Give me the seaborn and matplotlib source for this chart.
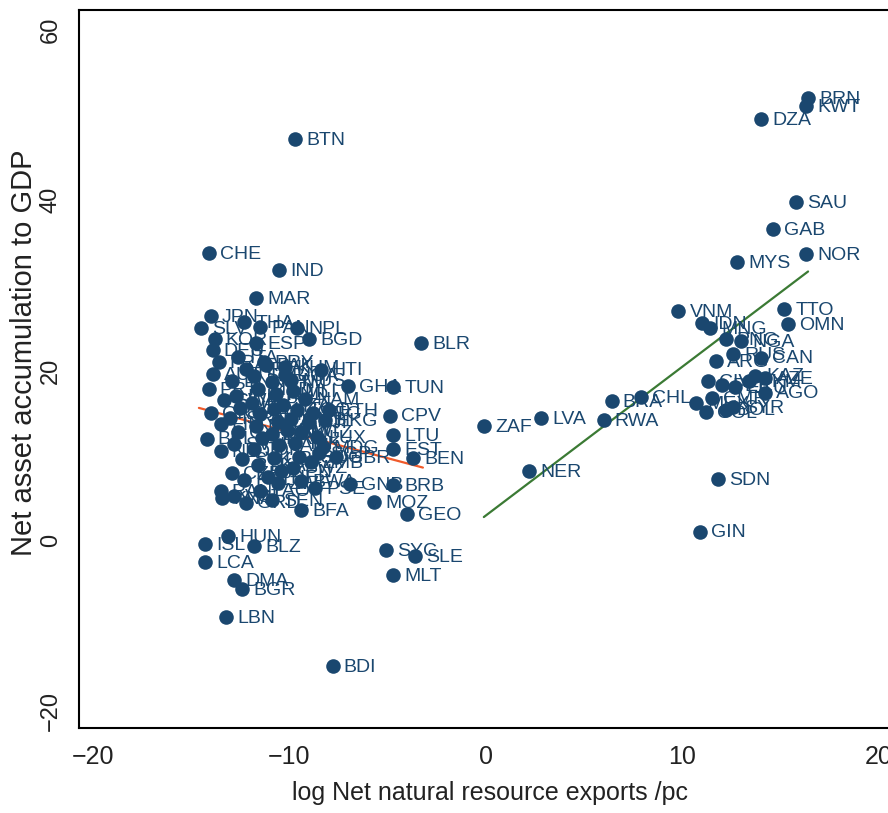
import seaborn as sns
import matplotlib.pyplot as plt
import pandas as pd

NAVY = "#1a476f"
RED = "#f05a2a"
GREEN = "#3b7a34"

# countries with positive net natural resource exports
right_codes = ["BRN", "KWT", "DZA", "SAU", "GAB", "NOR", "MYS", "VNM", "TTO", "OMN",
               "IDN", "MNG", "PNG", "NGA", "RUS", "CAN", "ARG", "KAZ", "AZE", "TKM",
               "CIV", "PER", "ECU", "AGO", "MEX", "CMR", "COL", "BOL", "SYR", "ZAF",
               "LVA", "NER", "BRA", "CHL", "RWA", "SDN", "GIN"]
right_x = [16.4, 16.3, 14.0, 15.8, 14.6, 16.3, 12.8, 9.8, 15.2, 15.4,
           11.0, 11.4, 12.2, 13.0, 12.6, 14.0, 11.7, 13.7, 14.2, 13.4,
           11.3, 12.0, 12.7, 14.2, 10.7, 11.5, 11.2, 12.2, 12.6, -0.1,
           2.8, 2.2, 6.4, 7.9, 6.0, 11.8, 10.9]
right_y = [51.9, 51.0, 49.5, 39.7, 36.6, 33.6, 32.7, 27.0, 27.2, 25.4,
           25.6, 25.0, 23.7, 23.4, 21.9, 21.5, 21.1, 19.4, 19.1, 18.7,
           18.7, 18.3, 18.0, 17.4, 16.2, 16.8, 15.1, 15.4, 15.7, 13.5,
           14.4, 8.2, 16.4, 16.9, 14.2, 7.3, 1.1]

# net resource importers, the crowded left cluster
left_codes = ["BTN", "CHE", "IND", "MAR", "JPN", "THA", "SLV", "NPL", "BGD", "BLR",
              "HTI", "GHA", "TUN", "CPV", "LTU", "EST", "BEN", "ETH", "GBR", "MDG",
              "ZMB", "GNB", "BRB", "MOZ", "GEO", "BFA", "SYC", "SLE", "MLT", "BDI",
              "LBN", "BGR", "DMA", "HUN", "ISL", "BLZ", "LCA", "PRY", "KHM", "PAN",
              "KOR", "DEU", "FRA", "ITA", "ESP", "PRT", "GRC", "BEL", "NLD", "AUT",
              "SWE", "FIN", "DNK", "IRL", "NZL", "ISR", "CYP", "SVN", "SVK", "CZE",
              "POL", "HRV", "SRB", "MKD", "ALB", "ARM", "MDA", "UKR", "JOR", "LKA",
              "PAK", "PHL", "LAO", "GTM", "HND", "NIC", "CRI", "DOM", "JAM", "URY",
              "KEN", "UGA", "TZA", "MWI", "ZWE", "SEN", "MLI", "TGO", "GMB", "KGZ",
              "TJK", "LSO", "SWZ", "BWA", "NAM", "FJI", "MUS", "RAN", "KNA", "VCT",
              "GRD", "ATG", "LUX", "SGP", "HKG", "PSE"]
left_x = [-9.7, -14.1, -10.5, -11.7, -14.0, -12.3, -14.5, -9.6, -9.0, -3.3,
          -8.4, -7.0, -4.7, -4.9, -4.7, -4.7, -3.7, -8.0, -7.6, -8.3,
          -8.9, -6.9, -4.7, -5.7, -4.0, -9.4, -5.1, -3.6, -4.7, -7.8,
          -13.2, -12.4, -12.8, -13.1, -14.3, -11.8, -14.3, -11.3, -10.2, -11.5,
          -13.8, -13.9, -13.6, -12.6, -11.7, -14.1, -14.0, -14.2, -13.5, -13.9,
          -13.3, -13.5, -12.9, -12.7, -12.5, -13.0, -12.6, -12.8, -12.4, -12.9,
          -12.3, -12.2, -11.8, -11.6, -11.9, -11.5, -11.7, -11.4, -11.8, -11.6,
          -11.2, -11.1, -11.5, -10.9, -10.7, -10.8, -10.6, -10.9, -10.5, -10.8,
          -10.4, -10.2, -10.3, -10.1, -10.6, -10.9, -9.8, -9.6, -9.9, -9.4,
          -9.7, -9.5, -9.8, -9.4, -9.2, -9.0, -9.9, -13.5, -13.4, -12.8,
          -12.2, -8.8, -8.6, -8.5, -8.2, -8.7]
left_y = [47.1, 33.8, 31.8, 28.5, 26.4, 25.7, 25.0, 25.0, 23.7, 23.2,
          20.1, 18.2, 18.0, 14.7, 12.4, 10.8, 9.7, 15.3, 9.8, 11.0,
          9.2, 6.7, 6.6, 4.6, 3.2, 3.6, -1.1, -1.8, -4.0, -14.7,
          -8.9, -5.6, -4.6, 0.6, -0.4, -0.6, -2.5, 21.0, 20.4, 25.1,
          23.7, 22.4, 21.0, 21.6, 23.2, 17.8, 15.0, 12.0, 10.5, 19.6,
          16.5, 13.7, 18.8, 17.0, 15.6, 14.4, 12.8, 11.4, 9.6, 8.0,
          7.2, 20.2, 19.4, 17.8, 16.2, 14.9, 13.5, 12.1, 10.8, 8.9,
          20.6, 7.5, 5.9, 18.6, 17.2, 15.5, 14.0, 12.5, 11.2, 9.7,
          8.2, 19.5, 15.9, 13.0, 6.8, 4.8, 17.6, 15.4, 14.3, 12.8,
          11.5, 9.8, 8.6, 7.0, 16.6, 13.9, 18.9, 5.8, 5.0, 5.3,
          4.5, 15.0, 12.2, 10.3, 14.2, 6.2]

# fitted lines
fit_left_x = [-14.6, -3.2]
fit_left_y = [15.6, 8.6]
fit_right_x = [-0.1, 16.4]
fit_right_y = [2.8, 31.6]


def make_frame():
    '''combine the two country groups into one dataframe'''
    codes = left_codes + right_codes
    xs = left_x + right_x
    ys = left_y + right_y
    return pd.DataFrame({"code": codes, "exports": xs, "assets": ys})


def main():
    sns.set_style("white")
    plt.rcParams["font.family"] = ["Liberation Sans", "DejaVu Sans"]

    df = make_frame()

    fig = plt.figure(figsize=(8.88, 8.13), dpi=100)
    ax = fig.add_axes([0.089, 0.1045, 0.925, 0.8835])

    sns.lineplot(x=fit_left_x, y=fit_left_y, color=RED, linewidth=1.6, ax=ax, zorder=1)
    sns.lineplot(x=fit_right_x, y=fit_right_y, color=GREEN, linewidth=1.6, ax=ax, zorder=1)
    sns.scatterplot(data=df, x="exports", y="assets", color=NAVY, s=110,
                    edgecolor=NAVY, linewidth=0, ax=ax, zorder=2)

    for code, x, y in zip(df["code"], df["exports"], df["assets"]):
        ax.annotate(code, (x, y), xytext=(8, -1), textcoords="offset points",
                    va="center", ha="left", fontsize=14, color=NAVY, zorder=3)

    ax.set_xlim(-20.7, 21.1)
    ax.set_ylim(-21.95, 62.3)
    ax.set_xticks([-20, -10, 0, 10, 20])
    ax.set_yticks([-20, 0, 20, 40, 60])
    ax.set_xlabel("log Net natural resource exports /pc", fontsize=18,
                  color="#222222", labelpad=8)
    ax.set_ylabel("Net asset accumulation to GDP", fontsize=21, color="#222222")
    ax.yaxis.set_label_coords(-0.05, 0.522)

    for lab in ax.get_xticklabels():
        lab.set_fontsize(18)
    for lab in ax.get_yticklabels():
        lab.set_rotation(90)
        lab.set_va("center")
        lab.set_fontsize(17)

    ax.tick_params(axis="both", direction="out", length=9, width=1.5,
                   color="black", labelcolor="#222222")
    for side in ["left", "bottom", "top", "right"]:
        ax.spines[side].set_color("black")
        ax.spines[side].set_linewidth(1.5)

    fig.savefig("out.png", dpi=100)


if __name__ == "__main__":
    main()
